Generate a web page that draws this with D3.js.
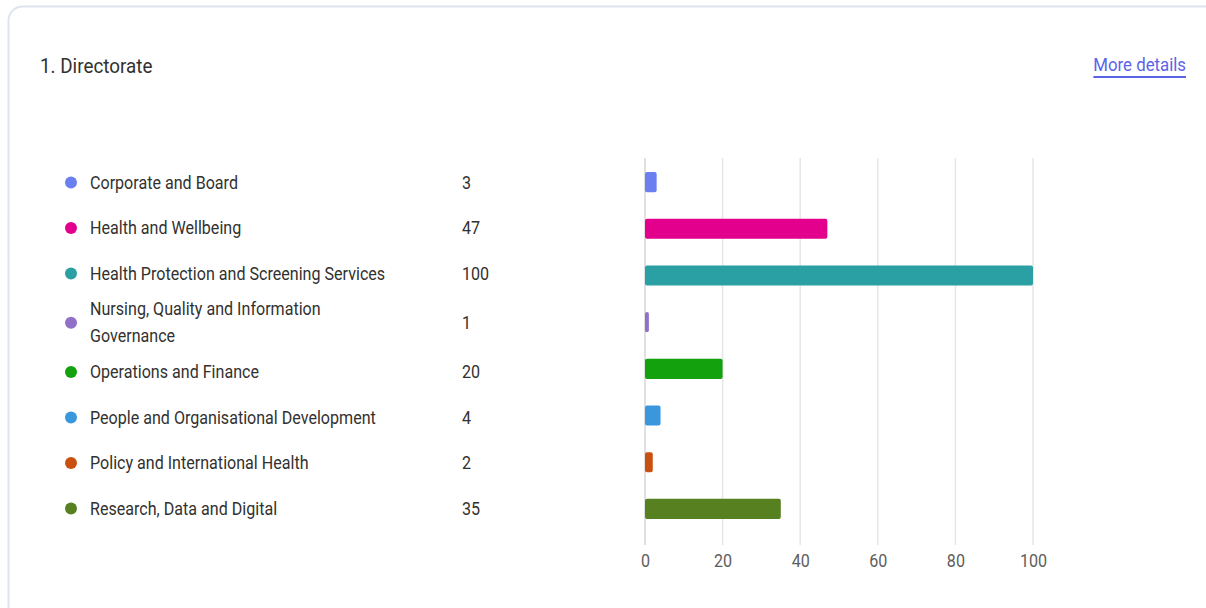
<!DOCTYPE html>
<html>
<head>
<meta charset="utf-8">
<script src="https://cdn.jsdelivr.net/npm/d3@7"></script>
<style>
  body { margin: 0; background: #fff; }
  svg { display: block; font-family: Roboto, "Open Sans", sans-serif; }
</style>
</head>
<body>
<div id="chart"></div>
<script>
const width = 1206, height = 608;

// data
const categories = [
  "Corporate and Board",
  "Health and Wellbeing",
  "Health Protection and Screening Services",
  "Nursing, Quality and Information Governance",
  "Operations and Finance",
  "People and Organisational Development",
  "Policy and International Health",
  "Research, Data and Digital"
];
const counts = [3, 47, 100, 1, 20, 4, 2, 35];
const colorList = ["#6a7ff0", "#e3008c", "#2ba0a4", "#9070c8", "#13a10e", "#3a96dd", "#ca5010", "#578020"];
const xTicks = [0, 20, 40, 60, 80, 100];

const data = categories.map((c, i) => ({ name: c, count: counts[i] }));

const sx = 0.92;  // the screenshot's text is a bit narrow

const svg = d3.select("#chart").append("svg")
  .attr("width", width)
  .attr("height", height);

// card
svg.append("rect")
  .attr("x", 8.5).attr("y", 6.5)
  .attr("width", 1212).attr("height", 640)
  .attr("rx", 14)
  .attr("fill", "#fff")
  .attr("stroke", "#dde4ec")
  .attr("stroke-width", 2);

svg.append("text")
  .attr("transform", `translate(40,73) scale(${sx},1)`)
  .attr("fill", "#323130")
  .style("font-size", "20.5px")
  .text("1. Directorate");

const link = svg.append("text")
  .attr("transform", "translate(1186,71) scale(0.96,1)")
  .attr("text-anchor", "end")
  .attr("fill", "#5b64e8")
  .style("font-size", "17.5px")
  .text("More details");
const lw = link.node().getComputedTextLength() * 0.96;
svg.append("rect")
  .attr("x", 1186 - lw).attr("y", 76)
  .attr("width", lw).attr("height", 2)
  .attr("fill", "#5b64e8");

const color = d3.scaleOrdinal().domain(categories).range(colorList);

const y = d3.scaleBand()
  .domain(categories)
  .range([159, 532])
  .paddingInner(0.57)
  .paddingOuter(0.28);

const x = d3.scaleLinear()
  .domain([0, 100])
  .range([645, 1033]);

// grid
svg.append("g").selectAll("line")
  .data(xTicks)
  .join("line")
  .attr("x1", d => x(d)).attr("x2", d => x(d))
  .attr("y1", 158).attr("y2", 545)
  .attr("stroke", d => d === 0 ? "#d6d6d6" : "#e6e6e6")
  .attr("stroke-width", 1.5);

// axis
const axis = svg.append("g")
  .attr("transform", "translate(0,545)")
  .call(d3.axisBottom(x).tickValues(xTicks).tickSize(0).tickPadding(0));
axis.select(".domain").remove();
axis.selectAll("text")
  .attr("dy", null)
  .attr("y", 0)
  .attr("transform", `translate(0,21.5) scale(${sx},1)`)
  .attr("fill", "#605e5c")
  .style("font-size", "17.5px")
  .style("font-family", "Roboto, sans-serif");

// bars
svg.append("g").selectAll("rect")
  .data(data)
  .join("rect")
  .attr("x", x(0))
  .attr("y", d => y(d.name))
  .attr("width", d => x(d.count) - x(0))
  .attr("height", y.bandwidth())
  .attr("rx", 2)
  .attr("fill", d => color(d.name));

// legend list: rows flow down, a wrapped label makes its row taller
const legendTop = 159.75, rowH = 45.5, lineH = 27, maxLabel = 315;

const rows = svg.append("g").selectAll("g")
  .data(data)
  .join("g");

rows.append("circle")
  .attr("cx", 71).attr("cy", 0).attr("r", 6)
  .attr("fill", d => color(d.name));

rows.append("text")
  .attr("transform", `translate(462,0) scale(${sx},1)`)
  .attr("dy", "0.35em")
  .attr("fill", "#323130")
  .style("font-size", "17.5px")
  .text(d => d.count);

const labels = rows.append("text")
  .attr("transform", `translate(90,0) scale(${sx},1)`)
  .attr("fill", "#323130")
  .style("font-size", "17.5px");

labels.each(function (d) {
  const t = d3.select(this);
  const words = d.name.split(" ");
  const lines = [];
  let line = [];
  const probe = t.append("tspan");
  words.forEach(w => {
    line.push(w);
    probe.text(line.join(" "));
    if (probe.node().getComputedTextLength() * sx > maxLabel && line.length > 1) {
      line.pop();
      lines.push(line.join(" "));
      line = [w];
    }
  });
  lines.push(line.join(" "));
  probe.remove();
  d.lines = lines.length;
  lines.forEach((l, i) => {
    t.append("tspan")
      .attr("x", 0)
      .attr("y", (i - (lines.length - 1) / 2) * lineH)
      .attr("dy", "0.35em")
      .text(l);
  });
});

let rowTop = legendTop;
rows.each(function (d) {
  const h = Math.max(rowH, d.lines * lineH - 1);
  d3.select(this).attr("transform", `translate(0,${rowTop + h / 2})`);
  rowTop += h;
});
</script>
</body>
</html>
